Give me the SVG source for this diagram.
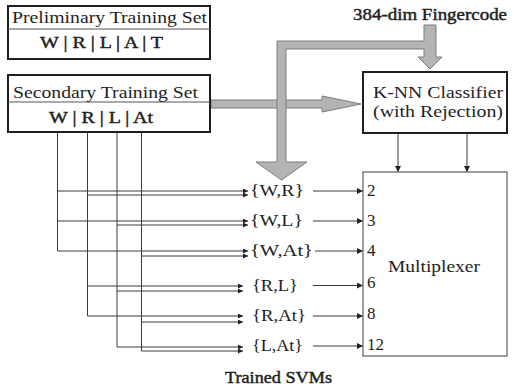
<svg xmlns="http://www.w3.org/2000/svg" width="514" height="391" viewBox="0 0 514 391">
<defs>
<style>
.t{font-family:"Liberation Serif","Times New Roman",serif;font-size:17px;fill:#1e1e1e}
.b{stroke:#1e1e1e;stroke-width:0.45px}
.box{fill:#fff;stroke:#1e1e1e;stroke-width:2}
.mux{fill:#fff;stroke:#6a6a6a;stroke-width:1.3}
.ln{fill:none;stroke:#3a3a3a;stroke-width:1}
.gray{fill:#b4b4b4;stroke:#7c7c7c;stroke-width:1}
</style>
<marker id="ah" viewBox="0 0 6 6" refX="6" refY="3" markerWidth="6" markerHeight="6" markerUnits="userSpaceOnUse" orient="auto"><path d="M0,0 L6,3 L0,6 z" fill="#222"/></marker>
<marker id="ahs" viewBox="0 0 6 6" refX="6" refY="3" markerWidth="5" markerHeight="5" markerUnits="userSpaceOnUse" orient="auto"><path d="M0,0 L6,3 L0,6 z" fill="#222"/></marker>
</defs>
<rect width="514" height="391" fill="#fff"/>

<g id="connectors">
<g id="thin-lines" class="ln">
<path d="M57.5,132 V251 M87.5,132 V316 M117,132 V347 M141.5,132 V351"/>
<path d="M57.5,191 H248" marker-end="url(#ahs)"/>
<path d="M87.5,195 H248" marker-end="url(#ahs)"/>
<path d="M57.5,221 H248" marker-end="url(#ahs)"/>
<path d="M117,225 H248" marker-end="url(#ahs)"/>
<path d="M57.5,251 H248" marker-end="url(#ahs)"/>
<path d="M141.5,256 H248" marker-end="url(#ahs)"/>
<path d="M87.5,286 H243" marker-end="url(#ahs)"/>
<path d="M117,291 H243" marker-end="url(#ahs)"/>
<path d="M87.5,316 H243" marker-end="url(#ahs)"/>
<path d="M141.5,322 H243" marker-end="url(#ahs)"/>
<path d="M117,347 H243" marker-end="url(#ahs)"/>
<path d="M141.5,351 H243" marker-end="url(#ahs)"/>
<path d="M313,191 H363" marker-end="url(#ah)"/>
<path d="M313,221 H363" marker-end="url(#ah)"/>
<path d="M315,251 H363" marker-end="url(#ah)"/>
<path d="M313,285.5 H363" marker-end="url(#ah)"/>
<path d="M313,316 H363" marker-end="url(#ah)"/>
<path d="M313,346 H363" marker-end="url(#ah)"/>
<path d="M398,134 V172" marker-end="url(#ah)"/>
<path d="M467,134 V172" marker-end="url(#ah)"/>
</g>
<polygon id="sec-to-knn" class="gray" points="211,100 322,100 322,96 361,104 322,112 322,108 211,108"/>
<polygon id="fingercode" class="gray" points="424,25 436,25 436,57 442,57 430,69 418,57 424,57 424,49 286,49 286,162 307,162 281.5,180 256,162 277,162 277,41 424,41"/>
</g>

<g id="preliminary">
<rect class="box" x="8" y="6" width="202" height="53"/>
<line x1="8" y1="29" x2="210" y2="29" stroke="#555" stroke-width="1"/>
<text class="t" x="12" y="23" textLength="195" lengthAdjust="spacingAndGlyphs">Preliminary Training Set</text>
<text class="t b" x="40" y="48" textLength="123" lengthAdjust="spacingAndGlyphs">W | R | L | A | T</text>
</g>

<g id="secondary">
<rect class="box" x="8" y="75" width="202" height="57"/>
<line x1="8" y1="102" x2="210" y2="102" stroke="#555" stroke-width="1"/>
<text class="t" x="13" y="98" textLength="185" lengthAdjust="spacingAndGlyphs">Secondary Training Set</text>
<text class="t b" x="49" y="123" textLength="104" lengthAdjust="spacingAndGlyphs">W | R | L | At</text>
</g>

<g id="fingercode-label">
<text class="t b" x="353" y="20" textLength="154" lengthAdjust="spacingAndGlyphs">384-dim Fingercode</text>
</g>

<g id="knn">
<rect class="box" x="363" y="72" width="144" height="61"/>
<text class="t" x="373" y="98" textLength="130" lengthAdjust="spacingAndGlyphs">K-NN Classifier</text>
<text class="t" x="373" y="117" textLength="130" lengthAdjust="spacingAndGlyphs">(with Rejection)</text>
</g>

<g id="multiplexer">
<rect class="mux" x="363" y="172" width="144" height="184"/>
<text class="t" x="388" y="272" textLength="92" lengthAdjust="spacingAndGlyphs">Multiplexer</text>
<text class="t" x="367" y="196">2</text>
<text class="t" x="367" y="226">3</text>
<text class="t" x="367" y="256">4</text>
<text class="t" x="367" y="288">6</text>
<text class="t" x="367" y="319">8</text>
<text class="t" x="367" y="350">12</text>
</g>

<g id="svms">
<text class="t" x="250" y="196" textLength="54" lengthAdjust="spacingAndGlyphs">{W,R}</text>
<text class="t" x="250" y="226" textLength="53" lengthAdjust="spacingAndGlyphs">{W,L}</text>
<text class="t" x="250" y="256" textLength="63" lengthAdjust="spacingAndGlyphs">{W,At}</text>
<text class="t" x="252" y="291" textLength="46" lengthAdjust="spacingAndGlyphs">{R,L}</text>
<text class="t" x="252" y="321" textLength="54" lengthAdjust="spacingAndGlyphs">{R,At}</text>
<text class="t" x="252" y="351" textLength="51" lengthAdjust="spacingAndGlyphs">{L,At}</text>
<text class="t b" x="225" y="383" textLength="107" lengthAdjust="spacingAndGlyphs">Trained SVMs</text>
</g>
</svg>
